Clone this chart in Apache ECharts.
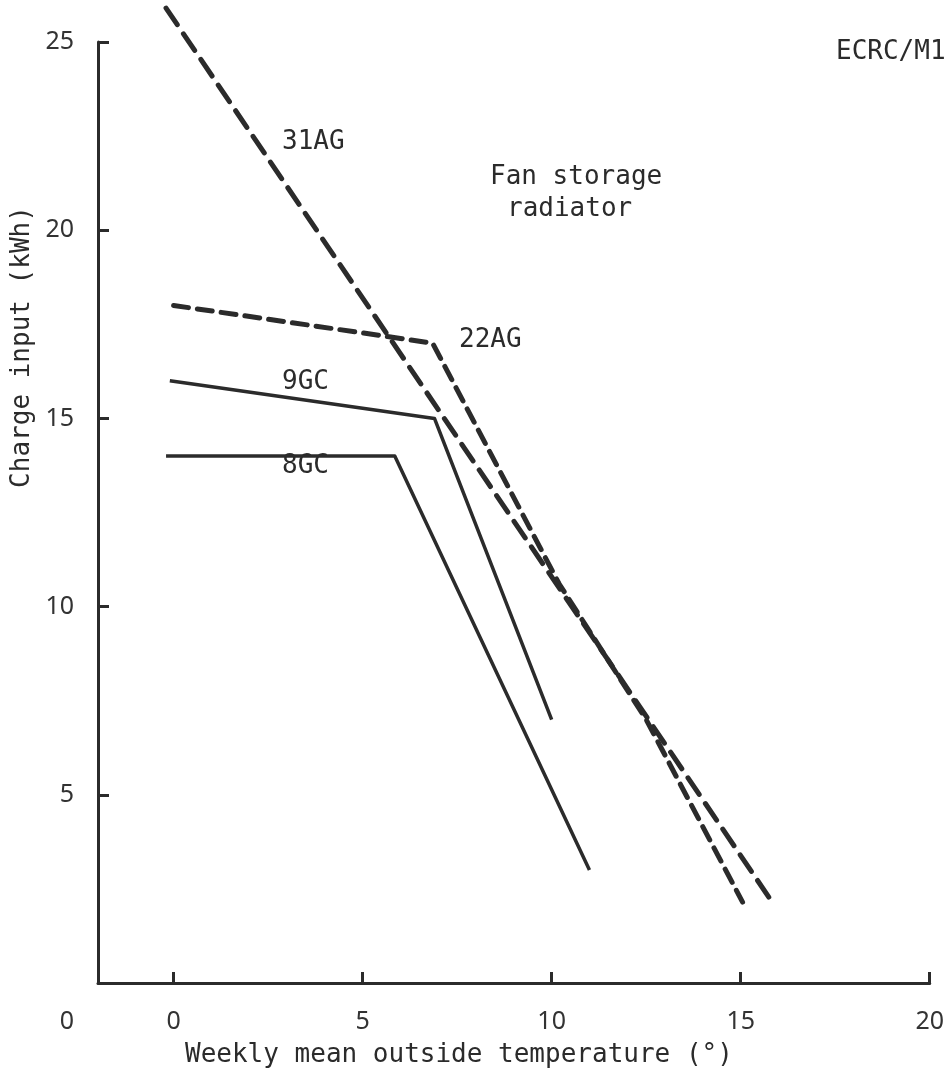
<!DOCTYPE html>
<html>
<head>
<meta charset="utf-8">
<title>Fan storage radiator – charge input</title>
<script src="https://cdn.jsdelivr.net/npm/echarts@6/dist/echarts.min.js"></script>
<style>
  html, body { margin: 0; padding: 0; background: #ffffff; }
  #chart { width: 947px; height: 1075px; }
</style>
</head>
<body>
<div id="chart"></div>
<script>
// Axis ticks
const xTicks = [0, 5, 10, 15, 20];
const yTicks = [0, 5, 10, 15, 20, 25];

// Weekly mean outside temperature (x) vs charge input in kWh (y), per radiator
const temp31AG = [-0.2, 15.8];
const kwh31AG  = [25.9, 2.2];

const temp22AG = [0.0, 6.85, 10.2, 12.5, 15.05];
const kwh22AG  = [18.0, 17.0, 10.6, 7.0, 2.15];

const temp9GC = [-0.1, 6.9, 10.0];
const kwh9GC  = [16.0, 15.0, 7.0];

const temp8GC = [-0.2, 5.85, 11.0];
const kwh8GC  = [14.0, 14.0, 3.0];

const pairs = (xs, ys) => xs.map((x, i) => [x, ys[i]]);

const INK = '#2b2b2b';
const MONO = '"DejaVu Sans Mono", "Liberation Mono", monospace';
const SANS = '"Noto Sans", "DejaVu Sans", sans-serif';

function lineSeries(name, data, width, dash) {
  return {
    name: name,
    type: 'line',
    data: data,
    symbol: 'none',
    clip: false,
    lineStyle: {
      color: INK,
      width: width,
      type: dash || 'solid',
      cap: dash ? 'round' : 'butt',
      join: 'round'
    },
    emphasis: { disabled: true }
  };
}

function note(text, x, y, extra) {
  return Object.assign({
    type: 'text',
    x: x,
    y: y,
    style: {
      text: text,
      font: '26px ' + MONO,
      fill: INK,
      align: 'left',
      verticalAlign: 'middle'
    },
    silent: true
  }, extra || {});
}

const chart = echarts.init(document.getElementById('chart'), null, { renderer: 'canvas' });

chart.setOption({
  animation: false,
  backgroundColor: '#ffffff',
  grid: { left: 98, right: 13, top: 42, bottom: 92, containLabel: false },
  xAxis: {
    type: 'value',
    min: -2,
    max: 20,
    axisLine: { show: true, onZero: false, lineStyle: { color: INK, width: 3 } },
    axisTick: {
      show: true,
      inside: true,
      length: 11,
      customValues: xTicks,
      lineStyle: { color: INK, width: 3 }
    },
    axisLabel: {
      customValues: xTicks,
      margin: 26,
      fontFamily: SANS,
      fontSize: 25,
      color: '#333333'
    },
    splitLine: { show: false }
  },
  yAxis: {
    type: 'value',
    min: yTicks[0],
    max: yTicks[yTicks.length - 1],
    interval: 5,
    axisLine: { show: true, onZero: false, lineStyle: { color: INK, width: 3 } },
    axisTick: { show: true, inside: true, length: 11, lineStyle: { color: INK, width: 3 } },
    axisLabel: {
      margin: 24,
      fontFamily: SANS,
      fontSize: 25,
      color: '#333333',
      formatter: function (v) {
        return v === 0 ? '{low|0}' : String(v);
      },
      rich: {
        low: { fontFamily: SANS, fontSize: 25, color: '#333333', padding: [78, 0, 0, 0] }
      }
    },
    splitLine: { show: false }
  },
  series: [
    lineSeries('31AG', pairs(temp31AG, kwh31AG), 5, [20, 11]),
    lineSeries('22AG', pairs(temp22AG, kwh22AG), 5, [15, 9]),
    lineSeries('9GC', pairs(temp9GC, kwh9GC), 3.5),
    lineSeries('8GC', pairs(temp8GC, kwh8GC), 3.5)
  ],
  graphic: [
    note('ECRC/M1', 836, 52),
    note('Fan storage', 490, 177),
    note('radiator', 507, 209),
    note('31AG', 282, 142),
    note('22AG', 459, 340),
    note('9GC', 282, 382),
    note('8GC', 282, 466),
    note('Weekly mean outside temperature (°)', 185, 1055),
    note('Charge input (kWh)', 22, 347, {
      rotation: Math.PI / 2,
      style: {
        text: 'Charge input (kWh)',
        font: '26px ' + MONO,
        fill: INK,
        align: 'center',
        verticalAlign: 'middle'
      }
    })
  ]
});
</script>
</body>
</html>
